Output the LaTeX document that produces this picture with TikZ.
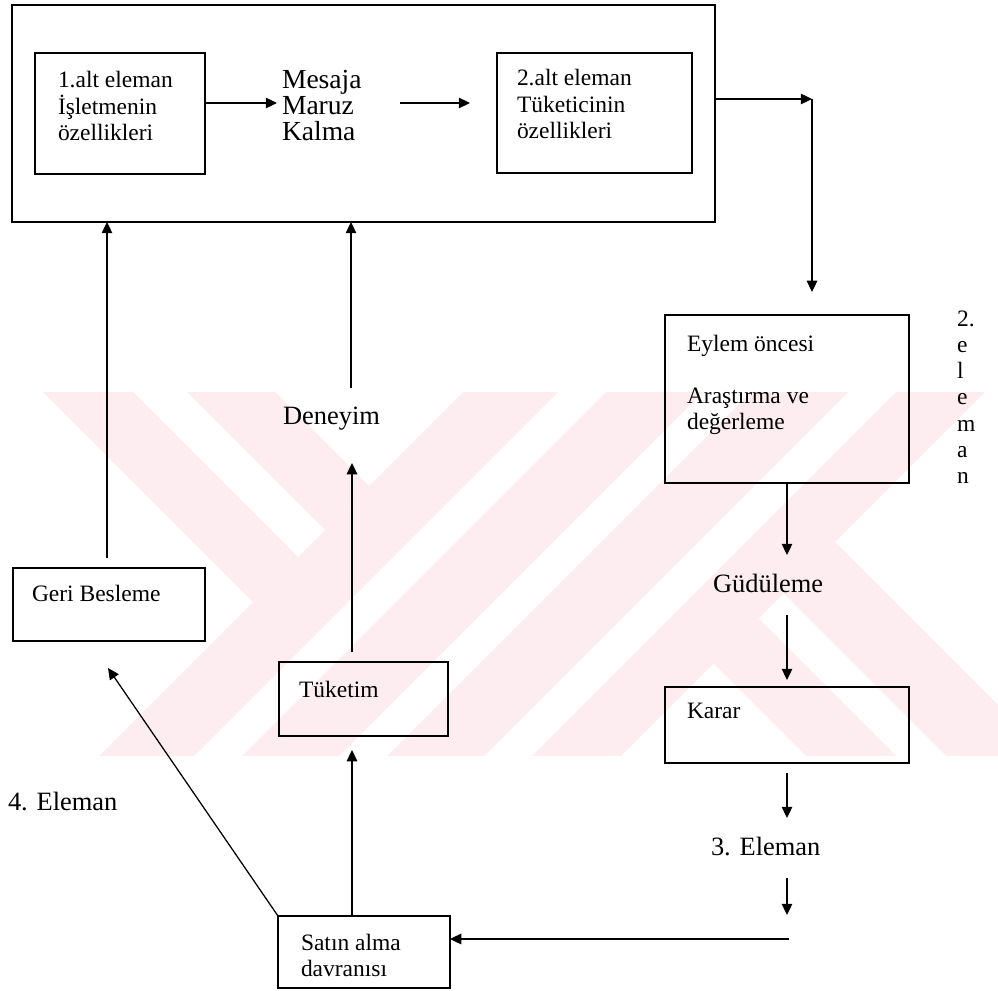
\documentclass[tikz,border=0pt]{standalone}
\usepackage{fontspec}
\setmainfont{Liberation Serif}
\usetikzlibrary{arrows.meta,calc}
\definecolor{wm}{RGB}{253,236,240}
\newcommand\stack[1]{\vtop{\halign{##\hfil\cr#1\crcr}}}
\begin{document}
\begin{tikzpicture}[x=0.025cm,y=-0.025cm,
  box/.style={draw, line width=1.3pt, inner sep=0pt, outer sep=0pt, anchor=north west},
  sz/.style 2 args={minimum width=#1*0.025cm, minimum height=#2*0.025cm},
  txt/.style={inner sep=0pt, outer sep=0pt, anchor=base west, font=\fontsize{16.7}{18.5}\selectfont},
  mid/.style={inner sep=0pt, outer sep=0pt, anchor=base west, font=\fontsize{19.6}{18.3}\selectfont},
  big/.style={inner sep=0pt, outer sep=0pt, anchor=base west, font=\fontsize{18.8}{20}\selectfont},
  arr/.style={line width=0.9pt, -{Triangle[length=8pt,width=7.5pt]}}]
\useasboundingbox (0,0) rectangle (998,991);

% background emblem: striped X cut to a horizontal strip
\begin{scope}
  \clip (0,392) rectangle (998,755);
  % upper-left arm, two bands
  \fill[wm] (-49,300) -- (253,602) -- (298,557) -- (41,300) -- cycle;
  \fill[wm] (95,300) -- (325,530) -- (369,486) -- (183,300) -- cycle;
  % long rising stroke, four bands
  \fill[wm] (555,300) -- (650,300) -- (100,850) -- (5,850) -- cycle;
  \fill[wm] (698,300) -- (795,300) -- (245,850) -- (148,850) -- cycle;
  \fill[wm] (843,300) -- (940,300) -- (390,850) -- (293,850) -- cycle;
  \fill[wm] (988,300) -- (1077,300) -- (527,850) -- (438,850) -- cycle;
  % lower-right arm, two bands
  \fill[wm] (783.5,593.5) -- (1040,850) -- (1143,850) -- (835,542) -- cycle;
  \fill[wm] (713.5,663.5) -- (900,850) -- (990,850) -- (758.5,618.5) -- cycle;
\end{scope}

% boxes
\node[box, sz={703}{217}] (frame) at (12,5) {};
\node[box, sz={170}{121}] (b1) at (35,53) {};
\node[box, sz={195}{120}] (b2) at (497,53) {};
\node[box, sz={244}{168}] (eylem) at (665,315) {};
\node[box, sz={244}{76}] (karar) at (665,687) {};
\node[box, sz={192}{73}] (geri) at (13,568) {};
\node[box, sz={169}{74}] (tuk) at (279,662) {};
\node[box, sz={172}{72}] (satin) at (278,916) {};

% texts
\node[txt] (t1) at (58,88) {\stack{1.alt eleman\cr İşletmenin\cr özellikleri}};
\node[mid] (mes) at (282,89) {\stack{Mesaja\cr Maruz\cr Kalma}};
\node[txt] (t2) at (517,86) {\stack{2.alt eleman\cr Tüketicinin\cr özellikleri}};
\node[txt] (te) at (687,351) {\stack{Eylem öncesi\cr\cr Araştırma ve\cr değerleme}};
\node[txt, font=\fontsize{16.7}{18.7}\selectfont] (col) at (957,326) {\stack{2.\cr e\cr l\cr e\cr m\cr a\cr n}};
\node[txt] (tg) at (32,601) {Geri Besleme};
\node[txt] (tt) at (299,697) {Tüketim};
\node[txt] (tk) at (687,718) {Karar};
\node[txt] (ts) at (301,950) {\stack{Satın alma\cr davranısı}};
\node[big] (den) at (283,424) {Deneyim};
\node[big] (gud) at (713,592) {Güdüleme};
\node[big] (e3) at (711,855) {3. Eleman};
\node[big] (e4) at (8,810) {4. Eleman};

% connectors
\coordinate (m1) at (277,103);
\draw[arr] (b1.east |- m1) -- (m1);
\coordinate (m2) at (400,103);
\draw[arr, shorten >=0.675cm] (m2) -- (b2.west |- m2);
\coordinate (c1) at (812,99);
\draw[arr] (frame.east |- c1) -- (c1);
\draw[arr, shorten >=0.575cm] (c1) -- (c1 |- eylem.north);
\coordinate (g1) at (787,555);
\draw[arr] (eylem.south) -- (g1);
\coordinate (g2) at (787,615);
\draw[arr, shorten >=0.175cm] (g2) -- (karar.north);
\coordinate (k1) at (787,818);
\draw[arr, shorten <=0.25cm] (karar.south) -- (k1);
\coordinate (k2) at (787,878);
\coordinate (k3) at (787,915);
\draw[arr] (k2) -- (k3);
\coordinate (h1) at (789,939);
\draw[arr] (h1) -- (satin.east |- h1);
\coordinate (colA) at (352,0);
\draw[arr, shorten >=0.35cm] (satin.north -| colA) -- (tuk.south -| colA);
\coordinate (d1) at (352,463);
\draw[arr, shorten <=0.25cm] (tuk.north -| colA) -- (d1);
\coordinate (d2) at (351,388);
\draw[arr] (d2) -- (frame.south -| d2);
\coordinate (colG) at (107,0);
\draw[arr, shorten <=0.25cm] (geri.north -| colG) -- (frame.south -| colG);
\coordinate (r1) at (108,668);
\draw[arr] (satin.north west) -- (r1);
\end{tikzpicture}
\end{document}
